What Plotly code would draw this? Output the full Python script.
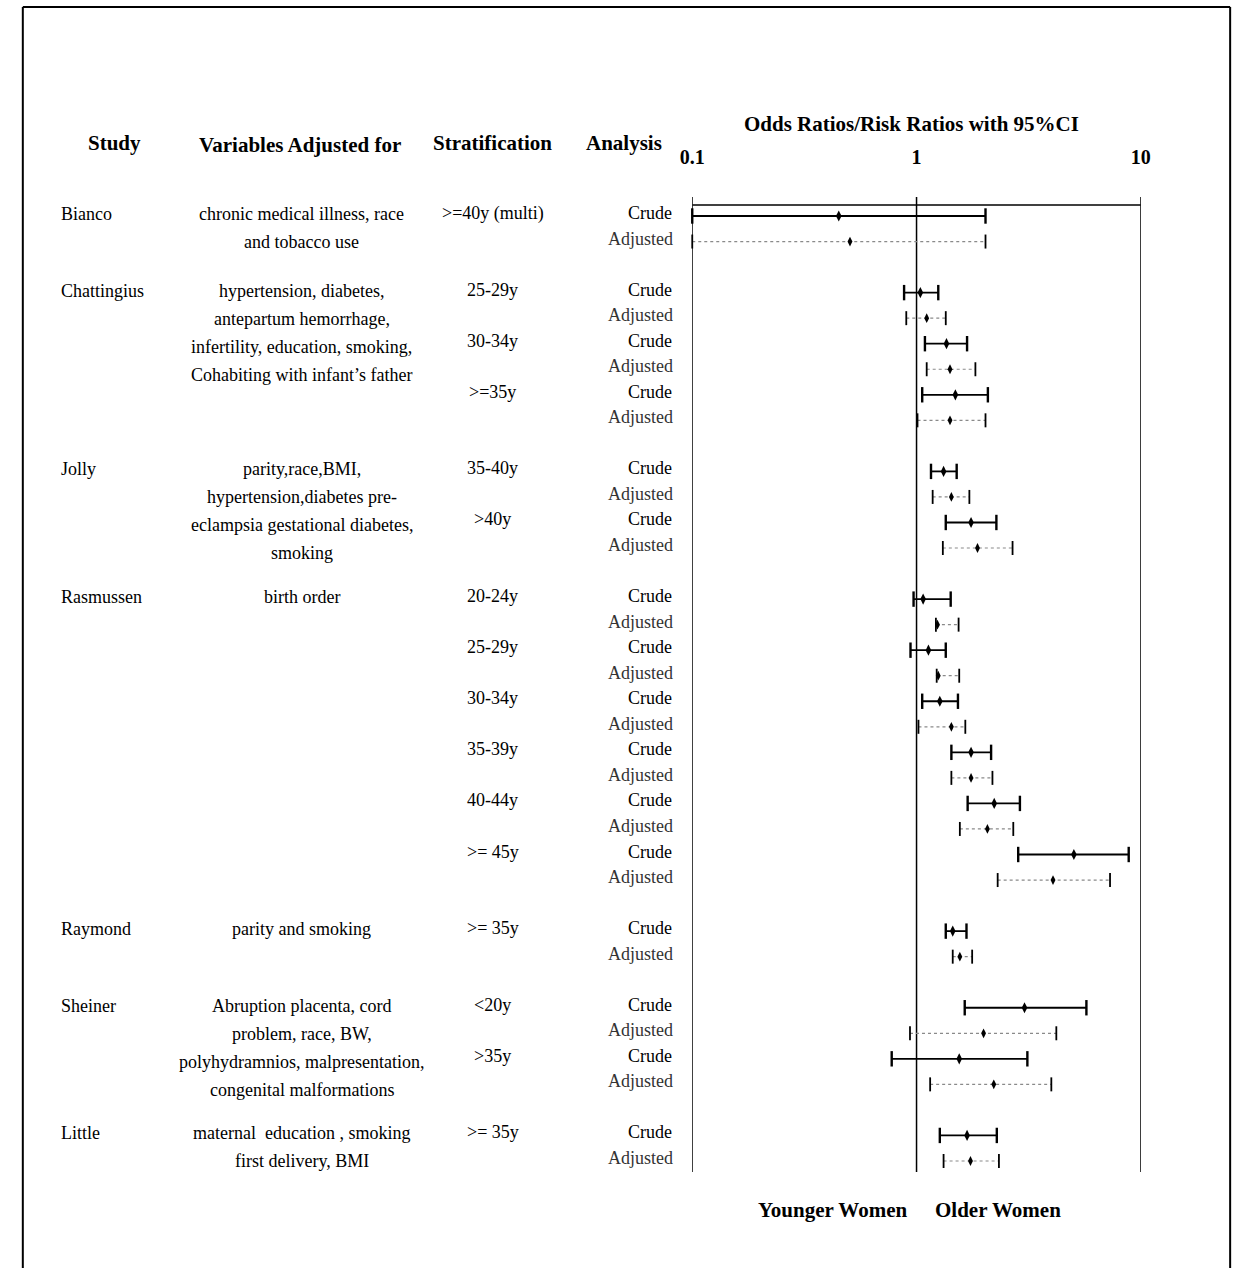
import plotly.graph_objects as go

# ---------------------------------------------------------------- data
studies = ["Bianco", "Chattingius", "Jolly", "Rasmussen", "Raymond", "Sheiner", "Little"]

adjusted_for = [
    ["chronic medical illness, race", "and tobacco use"],
    ["hypertension, diabetes,", "antepartum hemorrhage,",
     "infertility, education, smoking,", "Cohabiting with infant\u2019s father"],
    ["parity,race,BMI,", "hypertension,diabetes pre-",
     "eclampsia gestational diabetes,", "smoking"],
    ["birth order"],
    ["parity and smoking"],
    ["Abruption placenta, cord", "problem, race, BW,",
     "polyhydramnios, malpresentation,", "congenital malformations"],
    ["maternal  education , smoking", "first delivery, BMI"],
]

strata = [
    [">=40y (multi)"],
    ["25-29y", "30-34y", ">=35y"],
    ["35-40y", ">40y"],
    ["20-24y", "25-29y", "30-34y", "35-39y", "40-44y", ">= 45y"],
    [">= 35y"],
    ["<20y", ">35y"],
    [">= 35y"],
]

# one value per stratum, in the order listed above
crude_est = [0.45, 1.04, 1.36, 1.49, 1.32, 1.75, 1.07, 1.13, 1.27, 1.75, 2.22, 5.03, 1.45, 3.03, 1.55, 1.68]
crude_lo  = [0.10, 0.88, 1.09, 1.06, 1.16, 1.35, 0.97, 0.94, 1.06, 1.43, 1.69, 2.84, 1.35, 1.64, 0.775, 1.27]
crude_hi  = [2.03, 1.25, 1.68, 2.08, 1.51, 2.27, 1.42, 1.35, 1.53, 2.15, 2.89, 8.83, 1.67, 5.72, 3.12, 2.28]

adj_est = [0.505, 1.11, 1.41, 1.41, 1.43, 1.87, 1.24, 1.25, 1.43, 1.75, 2.07, 4.06, 1.56, 1.99, 2.21, 1.74]
adj_lo  = [0.10, 0.90, 1.11, 1.01, 1.18, 1.31, 1.22, 1.23, 1.02, 1.43, 1.56, 2.30, 1.45, 0.935, 1.15, 1.32]
adj_hi  = [2.03, 1.35, 1.83, 2.03, 1.72, 2.68, 1.54, 1.55, 1.65, 2.18, 2.70, 7.29, 1.77, 4.20, 3.99, 2.33]

axis_ticks = [0.1, 1, 10]
axis_tick_text = ["0.1", "1", "10"]

# ---------------------------------------------------------------- layout helpers
W, H = 1248, 1268
FONT = "Liberation Serif"
ROW_PX = 25.54          # pixel height of one table row
FIRST_ROW_PX = 216      # pixel position of the first row
PLOT_TOP, PLOT_BOTTOM = 197, 1172
PLOT_LEFT, PLOT_RIGHT = 692, 1149


def px_x(x):
    return x / W


def px_y(y):
    return 1 - y / H


# row numbers: two rows (crude / adjusted) per stratum, a blank row between studies
rows_crude, rows_adj, first_row = [], [], []
r = 0
for strs in strata:
    first_row.append(r)
    for _ in strs:
        rows_crude.append(r)
        rows_adj.append(r + 1)
        r += 2
    r += 1

y_top = (PLOT_TOP - FIRST_ROW_PX) / ROW_PX
y_bottom = (PLOT_BOTTOM - FIRST_ROW_PX) / ROW_PX


def segments(lo, hi, rows):
    xs, ys = [], []
    for a, b, rr in zip(lo, hi, rows):
        xs += [a, b, None]
        ys += [rr, rr, None]
    return xs, ys


fig = go.Figure()

# frame: vertical reference lines at 0.1, 1 and 10, horizontal line under the scale
frame_x, frame_y = [], []
for t in axis_ticks:
    frame_x += [t, t, None]
    frame_y += [y_top, y_bottom, None]
frame_x += [axis_ticks[0], axis_ticks[-1]]
frame_y += [(205 - FIRST_ROW_PX) / ROW_PX] * 2
fig.add_trace(go.Scatter(x=frame_x, y=frame_y, mode="lines",
                         line=dict(color="black", width=1.5),
                         hoverinfo="skip", cliponaxis=False, showlegend=False))

# confidence intervals
cx, cy = segments(crude_lo, crude_hi, rows_crude)
fig.add_trace(go.Scatter(x=cx, y=cy, mode="lines", name="Crude",
                         line=dict(color="black", width=1.8),
                         cliponaxis=False, showlegend=False))
ax_, ay_ = segments(adj_lo, adj_hi, rows_adj)
fig.add_trace(go.Scatter(x=ax_, y=ay_, mode="lines", name="Adjusted",
                         line=dict(color="#8a8a8a", width=1.2, dash="dot"),
                         cliponaxis=False, showlegend=False))

# end caps
fig.add_trace(go.Scatter(x=crude_lo + crude_hi, y=rows_crude + rows_crude, mode="markers",
                         marker=dict(symbol="line-ns-open", size=11, color="black",
                                     line=dict(color="black", width=2.4)),
                         cliponaxis=False, showlegend=False, hoverinfo="skip"))
fig.add_trace(go.Scatter(x=adj_lo + adj_hi, y=rows_adj + rows_adj, mode="markers",
                         marker=dict(symbol="line-ns-open", size=10, color="black",
                                     line=dict(color="black", width=1.8)),
                         cliponaxis=False, showlegend=False, hoverinfo="skip"))

# point estimates
fig.add_trace(go.Scatter(x=crude_est, y=rows_crude, mode="markers",
                         marker=dict(symbol="diamond-tall", size=8, color="black"),
                         cliponaxis=False, showlegend=False))
fig.add_trace(go.Scatter(x=adj_est, y=rows_adj, mode="markers",
                         marker=dict(symbol="diamond-tall", size=7, color="black"),
                         cliponaxis=False, showlegend=False))

annotations = []


def add_text(text, x, y, size=18, bold=False, anchor="center", color="black", yref="paper", yshift=0):
    annotations.append(dict(
        text=text, x=x, y=y, xref="paper", yref=yref, xanchor=anchor, yanchor="middle",
        showarrow=False, yshift=yshift,
        font=dict(family=FONT, size=size, color=color, weight="bold" if bold else "normal")))


# column headings
add_text("Study", px_x(103), px_y(143), size=21, bold=True)
add_text("Variables Adjusted for", px_x(292), px_y(145), size=21, bold=True)
add_text("Stratification", px_x(489), px_y(143), size=21, bold=True)
add_text("Analysis", px_x(622), px_y(143), size=21, bold=True)
add_text("Odds Ratios/Risk Ratios with 95%CI", px_x(915), px_y(124), size=21, bold=True)

# table text
k = 0
for si, (name, lines, strs) in enumerate(zip(studies, adjusted_for, strata)):
    r0 = first_row[si]
    add_text(name, px_x(47), r0, anchor="left", yref="y", yshift=2)
    for li, line in enumerate(lines):
        add_text(line, px_x(294), r0, yref="y", yshift=2 - 28 * li)
    for s in strs:
        add_text(s, px_x(489), rows_crude[k], yref="y", yshift=3)
        add_text("Crude", px_x(673), rows_crude[k], anchor="right", yref="y", yshift=3)
        add_text("Adjusted", px_x(674), rows_adj[k], anchor="right", yref="y",
                 yshift=3, color="#333333")
        k += 1

# direction labels
add_text("Younger Women", px_x(835), px_y(1210), size=21, bold=True)
add_text("Older Women", px_x(1003), px_y(1210), size=21, bold=True)

# outer border (left, top, right)
shapes = [
    dict(type="line", xref="paper", yref="paper", x0=px_x(10), x1=px_x(10),
         y0=px_y(1268), y1=px_y(7), line=dict(color="black", width=2)),
    dict(type="line", xref="paper", yref="paper", x0=px_x(10), x1=px_x(1240),
         y0=px_y(7), y1=px_y(7), line=dict(color="black", width=2)),
    dict(type="line", xref="paper", yref="paper", x0=px_x(1240), x1=px_x(1240),
         y0=px_y(7), y1=px_y(1268), line=dict(color="black", width=2)),
]

fig.update_layout(
    width=W, height=H,
    margin=dict(l=0, r=0, t=0, b=0),
    paper_bgcolor="white", plot_bgcolor="white",
    annotations=annotations, shapes=shapes,
    xaxis=dict(type="log", range=[-1, 1],
               domain=[px_x(PLOT_LEFT), px_x(PLOT_RIGHT)],
               side="top", tickvals=axis_ticks, ticktext=axis_tick_text,
               ticks="", showgrid=False, zeroline=False, showline=False,
               ticklabelstandoff=28,
               tickfont=dict(family=FONT, size=20, color="black", weight="bold")),
    yaxis=dict(range=[y_bottom, y_top],
               domain=[px_y(PLOT_BOTTOM), px_y(PLOT_TOP)],
               showticklabels=False, ticks="", showgrid=False,
               zeroline=False, showline=False),
    showlegend=False,
)

fig.write_html("out.html")
